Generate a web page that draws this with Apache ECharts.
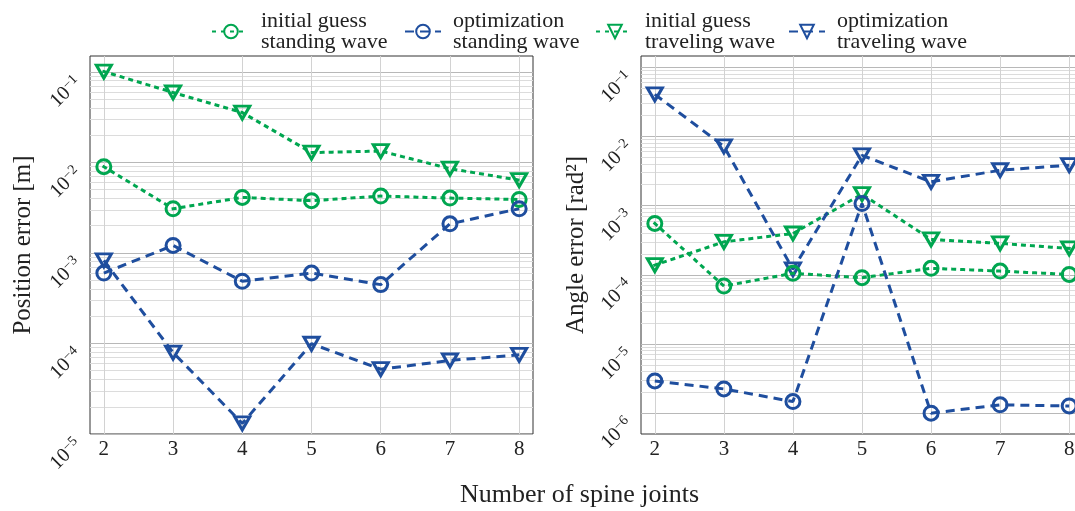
<!DOCTYPE html>
<html>
<head>
<meta charset="utf-8">
<script src="https://cdn.jsdelivr.net/npm/echarts@6/dist/echarts.min.js"></script>
<style>
  html, body { margin: 0; padding: 0; background: #fff; }
  #chart { width: 1075px; height: 511px; }
</style>
</head>
<body>
<div id="chart"></div>
<script>
// joints on the x axis
var joints = [2, 3, 4, 5, 6, 7, 8];

// left: position error [m]
var posInitStanding = [0.00897, 0.00308, 0.00411, 0.00378, 0.00425, 0.00404, 0.00390];
var posOptStanding = [6.0e-4, 1.21e-3, 4.87e-4, 6.0e-4, 4.47e-4, 2.10e-3, 3.08e-3];
var posInitTraveling = [0.101, 0.0593, 0.0356, 0.01285, 0.01336, 0.00853, 0.00638];
var posOptTraveling = [8.3e-4, 7.94e-5, 1.31e-5, 9.93e-5, 5.2e-5, 6.49e-5, 7.5e-5];

// right: angle error [rad^2]
var angInitStanding = [5.52e-4, 6.87e-5, 1.05e-4, 9.06e-5, 1.24e-4, 1.13e-4, 1.01e-4];
var angOptStanding = [2.92e-6, 2.24e-6, 1.47e-6, 1.07e-3, 1.0e-6, 1.32e-6, 1.27e-6];
var angInitTraveling = [1.38e-4, 2.99e-4, 3.95e-4, 1.46e-3, 3.24e-4, 2.84e-4, 2.40e-4];
var angOptTraveling = [0.0405, 0.00719, 1.20e-4, 0.00533, 0.0022, 0.00324, 0.00383];

// decade ticks
var posDecades = [1e-5, 1e-4, 1e-3, 1e-2, 1e-1];
var angDecades = [1e-6, 1e-5, 1e-4, 1e-3, 1e-2, 1e-1];

var names = ['initial guess\nstanding wave', 'optimization\nstanding wave',
             'initial guess\ntraveling wave', 'optimization\ntraveling wave'];

var GREEN = '#00a650';
var BLUE = '#1f4e9e';
var FONT = 'Liberation Serif';

function minors(decades) {
  var out = [];
  decades.forEach(function (d) {
    for (var k = 2; k <= 9; k++) out.push(d * k);
  });
  return out;
}

function pairs(ys) {
  return joints.map(function (x, i) { return [x, ys[i]]; });
}

function decadeLabel(v) {
  var e = Math.round(Math.log10(v));
  return '{b|10}{s|\u2212' + (-e) + '}';
}

var myChart = echarts.init(document.getElementById('chart'));

function xAxisFor(idx) {
  return {
    type: 'value', gridIndex: idx, min: 1.8, max: 8.2,
    axisLine: { show: false },
    axisTick: { show: false, customValues: joints },
    axisLabel: { customValues: joints, color: '#222', fontFamily: FONT, fontSize: 21, margin: 5 },
    splitLine: { show: true, lineStyle: { color: '#d2d2d2', width: 1 } }
  };
}

function yMajor(idx, min, max, decades, title, gap) {
  return {
    type: 'log', logBase: 10, gridIndex: idx, min: min, max: max,
    name: title, nameLocation: 'middle', nameGap: gap, nameRotate: 90,
    nameTextStyle: { fontFamily: FONT, fontSize: 25, color: '#222' },
    axisLine: { show: false },
    axisTick: { show: false, customValues: decades },
    axisLabel: {
      customValues: decades, rotate: 45, margin: 4,
      padding: [0, 11, 0, 0],
      formatter: decadeLabel,
      rich: {
        b: { fontFamily: FONT, fontSize: 20, color: '#222', lineHeight: 22 },
        s: { fontFamily: FONT, fontSize: 14, color: '#222', verticalAlign: 'top', lineHeight: 14, padding: [0, 0, 9, 0] }
      }
    },
    splitLine: { show: true, lineStyle: { color: '#b8b8b8', width: 1 } }
  };
}

function yMinor(idx, min, max, decades) {
  return {
    type: 'log', logBase: 10, gridIndex: idx, min: min, max: max,
    axisLine: { show: false },
    axisTick: { show: false, customValues: minors(decades) },
    axisLabel: { show: false },
    splitLine: { show: true, lineStyle: { color: '#dcdcdc', width: 1 } }
  };
}

function makeSeries(idx, yIdx, data, i) {
  var green = i === 0 || i === 2;
  var tri = i >= 2;
  var col = green ? GREEN : BLUE;
  return {
    name: names[i], type: 'line', xAxisIndex: idx, yAxisIndex: yIdx,
    data: pairs(data), z: tri ? 3 : 4,
    symbol: tri ? 'triangle' : 'circle',
    symbolSize: tri ? [15, 13] : 14,
    symbolRotate: tri ? 180 : 0,
    showAllSymbol: true,
    lineStyle: green
      ? { color: col, width: 3, type: [2, 7], cap: 'square' }
      : { color: col, width: 3, type: [9, 6] },
    itemStyle: { color: 'rgba(255,255,255,0)', borderColor: col, borderWidth: 3 },
    emphasis: { disabled: true }
  };
}

var option = {
  backgroundColor: '#fff',
  animation: false,
  title: {
    text: 'Number of spine joints', left: 455, top: 477,
    textStyle: { fontFamily: FONT, fontSize: 26, fontWeight: 'normal', color: '#222' }
  },
  legend: {
    top: 5, left: 207, itemWidth: 36, itemHeight: 17, itemGap: 7,
    data: names,
    textStyle: { fontFamily: FONT, fontSize: 22, lineHeight: 21, color: '#222', width: 136, padding: [0, 0, 0, 7] }
  },
  grid: [
    { left: 90, width: 443, top: 56, bottom: 77, outerBoundsMode: 'none', show: true, borderColor: '#333', borderWidth: 1, backgroundColor: '#fff' },
    { left: 641, width: 442, top: 56, bottom: 77, outerBoundsMode: 'none', show: true, borderColor: '#333', borderWidth: 1, backgroundColor: '#fff' }
  ],
  xAxis: [xAxisFor(0), xAxisFor(1)],
  yAxis: [
    yMajor(0, 1e-5, 0.15, posDecades, 'Position error [m]', 54),
    yMinor(0, 1e-5, 0.15, posDecades),
    yMajor(1, 5e-7, 0.145, angDecades, 'Angle error [rad\u00b2]', 52),
    yMinor(1, 5e-7, 0.145, angDecades)
  ],
  series: [
    makeSeries(0, 0, posInitStanding, 0),
    makeSeries(0, 0, posOptStanding, 1),
    makeSeries(0, 0, posInitTraveling, 2),
    makeSeries(0, 0, posOptTraveling, 3),
    makeSeries(1, 2, angInitStanding, 0),
    makeSeries(1, 2, angOptStanding, 1),
    makeSeries(1, 2, angInitTraveling, 2),
    makeSeries(1, 2, angOptTraveling, 3)
  ]
};

myChart.setOption(option, true);
window.addEventListener('resize', function () { myChart.resize(); });
</script>
</body>
</html>
